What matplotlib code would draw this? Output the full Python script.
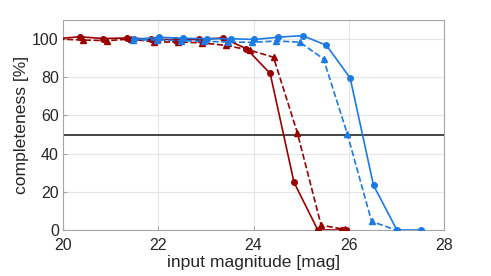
import numpy as np
import matplotlib
matplotlib.use('Agg')
import matplotlib.pyplot as plt

plt.rcParams['font.family'] = ['Liberation Sans', 'DejaVu Sans']

# red, solid (circles)
red_c_mag = [19.85, 20.35, 20.85, 21.35, 21.85, 22.35, 22.85, 23.35, 23.85, 24.35, 24.85, 25.35, 25.85, 25.95]
red_c_comp = [100.2, 101.2, 100.3, 100.6, 100.0, 99.7, 99.8, 100.6, 95.0, 82.0, 25.0, 0.0, 0.0, 0.0]

# red, dashed (triangles)
red_t_mag = [19.9, 20.42, 20.92, 21.42, 21.92, 22.42, 22.92, 23.42, 23.92, 24.42, 24.92, 25.42, 25.92]
red_t_comp = [100.0, 99.5, 99.2, 100.0, 98.5, 98.5, 98.0, 96.7, 94.2, 90.5, 51.0, 2.5, 0.3]

# blue, solid (circles)
blue_c_mag = [21.5, 22.02, 22.52, 23.02, 23.52, 24.02, 24.52, 25.03, 25.53, 26.03, 26.52, 27.01, 27.52]
blue_c_comp = [99.8, 101.0, 100.4, 100.2, 100.2, 99.8, 101.0, 101.8, 96.8, 79.6, 23.4, 0.0, 0.0]

# blue, dashed (triangles)
blue_t_mag = [21.47, 21.97, 22.47, 22.97, 23.47, 23.97, 24.47, 24.97, 25.47, 25.97, 26.48, 26.99]
blue_t_comp = [99.5, 99.6, 99.2, 98.8, 98.5, 98.3, 99.0, 98.4, 89.6, 50.3, 4.5, 0.0]

red = '#990000'
blue = '#1a7ae6'

fig = plt.figure(figsize=(4.91, 2.76), dpi=100)
ax = fig.add_axes([63/491, 46/276, 381/491, 210/276])

ax.axhline(50, color='#262626', lw=1.2, zorder=1)
ax.plot(red_c_mag, red_c_comp, '-o', color=red, ms=4, lw=1.2, zorder=3)
ax.plot(red_t_mag, red_t_comp, '--^', color=red, ms=4.5, lw=1.2, zorder=3)
ax.plot(blue_c_mag, blue_c_comp, '-o', color=blue, ms=4, lw=1.2, zorder=3)
ax.plot(blue_t_mag, blue_t_comp, '--^', color=blue, ms=4.5, lw=1.2, zorder=3)

ax.set_xlim(20, 28)
ax.set_ylim(0, 110)
ax.set_xticks([20, 22, 24, 26, 28])
ax.set_yticks([0, 20, 40, 60, 80, 100])
ax.grid(True, color='#e6e6e6', lw=0.8)
ax.set_axisbelow(True)
for s in ax.spines.values():
    s.set_color('#a6a6a6')
    s.set_linewidth(0.8)
ax.tick_params(direction='in', length=3, color='#a6a6a6', labelsize=11.5,
               labelcolor='#262626', pad=3)
ax.tick_params(axis='x', pad=5.5)
ax.set_xlabel('input magnitude [mag]', fontsize=12.6, color='#262626', labelpad=1.5)
ax.set_ylabel('completeness [%]', fontsize=12.6, color='#262626', labelpad=2)

fig.savefig('out.png', dpi=100)
